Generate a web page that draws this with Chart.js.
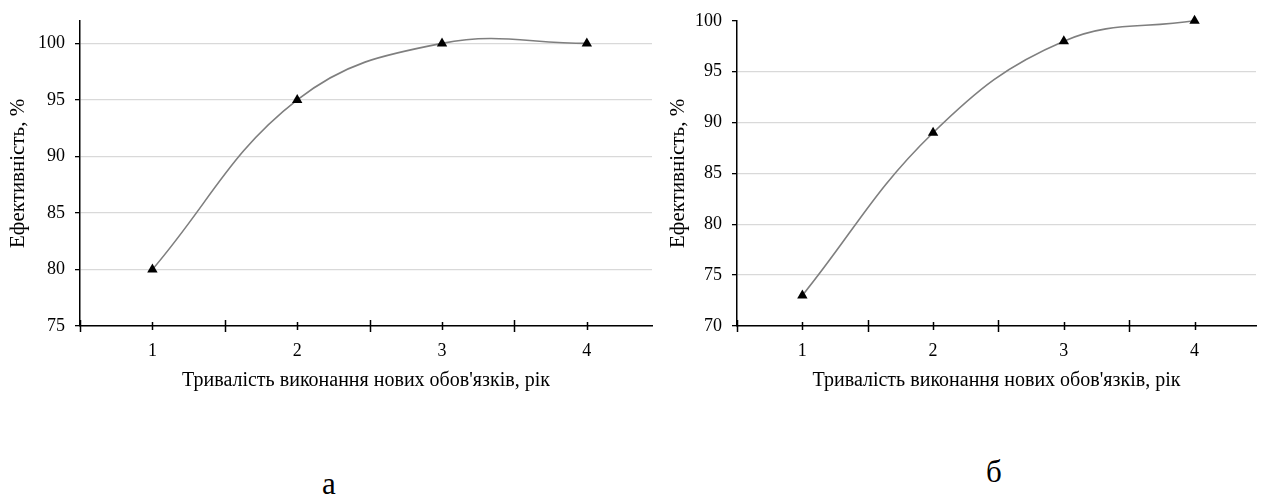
<!DOCTYPE html>
<html lang="uk">
<head>
<meta charset="utf-8">
<script src="https://cdn.jsdelivr.net/npm/chart.js@4/dist/chart.umd.min.js"></script>
<style>
  html, body { margin: 0; padding: 0; background: #fff; }
  body { width: 1262px; height: 497px; position: relative; overflow: hidden; }
  .box { position: absolute; top: 0; height: 400px; }
  #boxA { left: 0; width: 665px; }
  #boxB { left: 660px; width: 602px; }
  .tag { position: absolute; font-family: "Liberation Serif", serif; font-size: 31px; color: #000; line-height: 1; }
</style>
</head>
<body>
<div class="box" id="boxA"><canvas id="chartA"></canvas></div>
<div class="box" id="boxB"><canvas id="chartB"></canvas></div>
<div class="tag" style="left:322px; top:468px;">а</div>
<div class="tag" style="left:986px; top:456px;">б</div>
<script>
// Duration of performing new duties, years
const years = [1, 2, 3, 4];
// Efficiency, % (panel а and panel б)
const efficiencyA = [80, 95, 100, 100];
const efficiencyB = [73, 89, 98, 100];
// Value-axis tick labels
const yTicksA = [75, 80, 85, 90, 95, 100];
const yTicksB = [70, 75, 80, 85, 90, 95, 100];

const xTitle = "Тривалість виконання нових обов'язків, рік";
const yTitle = "Ефективність, %";
const FONT = "'Liberation Serif', 'Times New Roman', serif";

// Tick marks that cross the category axis: short at categories, long between them
const crossTicks = {
  id: 'crossTicks',
  afterDraw(chart) {
    const xs = chart.scales.x, ys = chart.scales.y;
    const ctx = chart.ctx;
    const base = ys.bottom;
    ctx.save();
    ctx.strokeStyle = '#000';
    ctx.lineWidth = 1.5;
    xs.ticks.forEach(t => {
      const px = Math.round(xs.getPixelForValue(t.value)) + 0.5;
      const half = Number.isInteger(t.value) ? 4 : 6;
      ctx.beginPath();
      ctx.moveTo(px, base - half);
      ctx.lineTo(px, base + half);
      ctx.stroke();
    });
    ctx.restore();
  }
};

// Category positions plus the boundaries halfway between them
const xTickValues = [years[0] - 0.5, ...years.flatMap(v => [v, v + 0.5])];

function makeChart(id, values, yTicks, xMax, yMax, yAxisWidth, pad) {
  const yMin = yTicks[0];
  const topTick = yTicks[yTicks.length - 1];
  return new Chart(document.getElementById(id), {
    type: 'line',
    data: {
      datasets: [{
        data: years.map((x, i) => ({ x, y: values[i] })),
        borderColor: '#7f7f7f',
        borderWidth: 1.6,
        tension: 0.4,
        pointStyle: 'triangle',
        pointRadius: 6,
        pointBackgroundColor: '#000',
        pointBorderColor: '#000',
        pointBorderWidth: 0,
        clip: false
      }]
    },
    options: {
      responsive: true,
      maintainAspectRatio: false,
      animation: false,
      events: [],
      layout: { padding: { top: 16, right: pad, bottom: 0, left: 0 } },
      plugins: { legend: { display: false }, tooltip: { enabled: false } },
      scales: {
        x: {
          type: 'linear',
          min: 0.5,
          max: xMax,
          afterBuildTicks: s => { s.ticks = xTickValues.filter(v => v <= xMax).map(v => ({ value: v })); },
          afterFit: s => { s.height = 74; },
          ticks: {
            autoSkip: false,
            maxRotation: 0,
            padding: 14,
            color: '#000',
            font: { family: FONT, size: 18 },
            callback: v => years.includes(v) ? String(v) : ''
          },
          grid: { drawOnChartArea: false, drawTicks: false },
          border: { display: true, color: '#000', width: 1.5 },
          title: {
            display: true,
            text: xTitle,
            color: '#000',
            font: { family: FONT, size: 20 },
            padding: { top: 0, bottom: 7 }
          }
        },
        y: {
          min: yMin,
          max: yMax,
          afterBuildTicks: s => { s.ticks = yTicks.map(v => ({ value: v })); },
          afterFit: s => { s.width = yAxisWidth; },
          ticks: {
            padding: 10,
            color: '#000',
            font: { family: FONT, size: 18 }
          },
          grid: {
            color: c => (c.tick && (c.tick.value === yMax && topTick === yMax)) ? 'rgba(0,0,0,0)' : '#d9d9d9',
            lineWidth: 1.3,
            tickColor: '#000',
            tickLength: 5
          },
          border: { display: true, color: '#000', width: 1.5 },
          title: {
            display: true,
            text: yTitle,
            color: '#000',
            font: { family: FONT, size: 21 },
            padding: { top: 6, bottom: 0 }
          }
        }
      }
    },
    plugins: [crossTicks]
  });
}

makeChart('chartA', efficiencyA, yTicksA, 4.45, 102, 80, 13);
makeChart('chartB', efficiencyB, yTicksB, 4.47, 100, 77, 5);
</script>
</body>
</html>
